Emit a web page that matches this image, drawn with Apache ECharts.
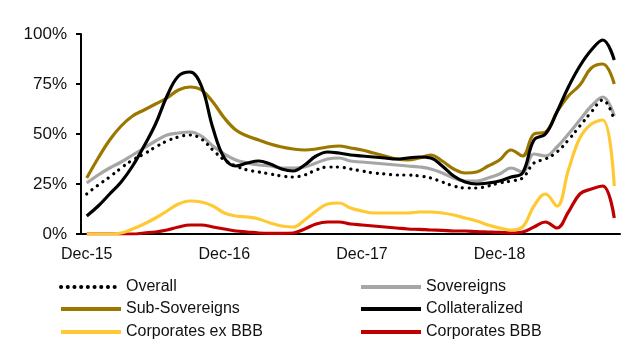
<!DOCTYPE html>
<html>
<head>
<meta charset="utf-8">
<script src="https://cdn.jsdelivr.net/npm/echarts@6/dist/echarts.min.js"></script>
<style>
html,body{margin:0;padding:0;background:#fff;}
#c{width:640px;height:360px;}
</style>
</head>
<body>
<div id="c"></div>
<script>
var categories = ['Dec-15','Jan-16','Feb-16','Mar-16','Apr-16','May-16','Jun-16','Jul-16','Aug-16','Sep-16','Oct-16','Nov-16',
  'Dec-16','Jan-17','Feb-17','Mar-17','Apr-17','May-17','Jun-17','Jul-17','Aug-17','Sep-17','Oct-17','Nov-17',
  'Dec-17','Jan-18','Feb-18','Mar-18','Apr-18','May-18','Jun-18','Jul-18','Aug-18','Sep-18','Oct-18','Nov-18',
  'Dec-18','Jan-19','Feb-19','Mar-19','Apr-19','May-19','Jun-19','Jul-19','Aug-19','Sep-19','Oct-19'];
var yTicks = [0, 25, 50, 75, 100];

var overall = [20,24.5,28.5,33,37,40,43.5,46.5,48.5,49.5,47.5,42,37,34,32,31,30,29,28.5,29.5,32,33.5,
  33.5,32.5,31.5,30.5,30,29.5,29.5,29,28,26,24,23,23,24,25.5,26.5,28,35.5,37.5,41,47,54,61,67,57];
var sovereigns = [25.5,29.5,33,36,39.5,43,46.5,49.5,50.5,51,49,44,40,37,35.5,34.5,34,33,33,33.5,35.5,37.5,
  38,36.5,36,35.5,35,34.5,34,33.5,32.5,30.5,28,26.5,26.5,28,30,33,31,40,39,43.5,50,57,64,68.5,59];
var subSovereigns = [28,38,47,54,59,62,65,68,72,73.5,72,66,58,52,49,47,45,43.5,42.5,42,42.5,43.5,
  44,43,42,40.5,39,37.5,37,38,39.5,36.5,32.5,30.5,31,34,37,42,39,50,51,61,69,74.5,83,85,75];
var collateralized = [9,14,20,26,34,44,55,69,79,81,74,53,38,34,35.5,36.5,35,32.5,31.5,34.5,39,41,
  40.5,39.5,39,38.5,38,37.5,38,38.5,38,34,29,26,25,25.5,26.5,28.5,30.5,47,50,61,73.5,84,92,97,87];
var corporatesExBBB = [0,0,0,0.5,2.5,5,8,11.5,15,16.5,16,14,10.5,9,8.5,7.5,5.5,4,3.5,7,11.5,15,
  15.5,13,11.5,10.5,10.5,10.5,10.5,11,11,10.5,9.5,8,6.5,4.5,3,2,3.5,14,20,14,32,48,55,57,24];
var corporatesBBB = [0,0,0,0,0,0.5,1,2,3.5,4.5,4.5,3.5,2.5,1.5,1,0.5,0.3,0.3,0.5,2.5,5,6,
  6,5,4.5,4,3.5,3,2.5,2.3,2,1.8,1.5,1.5,1.2,1,0.8,0.5,1,3.5,6,3,11,20,22.5,24,8];

var names = ['Overall','Sovereigns','Sub-Sovereigns','Collateralized','Corporates ex BBB','Corporates BBB'];
var colors = ['#000000','#A6A6A6','#9C7700','#000000','#FFC933','#C00000'];

var chart = echarts.init(document.getElementById('c'), null, {renderer:'canvas'});
var font = 'Liberation Sans, Arial, sans-serif';

function mkSeries(name, data, color, z, dotted) {
  return {
    name: name, type: 'line', data: data, smooth: 0.4, symbol: 'none', z: z,
    lineStyle: dotted ? {color: color, width: 3.2, type: [0.1, 6.6], cap: 'round'} : {color: color, width: 3.2},
    itemStyle: {color: color}
  };
}
function mkLegend(name, left, top) {
  return {
    data: [name], left: left, top: top, padding: 0, itemWidth: 60, itemHeight: 14,
    itemStyle: {color: 'rgba(0,0,0,0)', borderColor: 'rgba(0,0,0,0)', borderWidth: 0, opacity: 0},
    lineStyle: {width: 4},
    textStyle: {fontFamily: font, fontSize: 16, color: '#111', lineHeight: 16},
    selectedMode: false
  };
}

chart.setOption({
  animation: false,
  backgroundColor: '#fff',
  grid: {left: 81, right: 20, top: 34, bottom: 126},
  legend: [
    mkLegend(names[0], 59, 279), mkLegend(names[1], 359, 279),
    mkLegend(names[2], 59, 301), mkLegend(names[3], 359, 301),
    mkLegend(names[4], 59, 324), mkLegend(names[5], 359, 324)
  ],
  xAxis: {
    type: 'category', data: categories, boundaryGap: true,
    axisLine: {lineStyle: {color: '#000', width: 2}},
    axisTick: {interval: 11, length: 5, lineStyle: {color: '#000', width: 2}},
    axisLabel: {interval: 11, margin: 13, fontFamily: font, fontSize: 16, color: '#111'}
  },
  yAxis: {
    type: 'value', min: 0, max: 100, interval: 25,
    splitLine: {show: false},
    axisLine: {show: true, lineStyle: {color: '#000', width: 2}},
    axisTick: {show: true, length: 5, lineStyle: {color: '#000', width: 2}},
    axisLabel: {margin: 14, fontFamily: font, fontSize: 17, color: '#111',
      formatter: function (v) { return yTicks.indexOf(v) >= 0 ? v + '%' : ''; }}
  },
  series: [
    mkSeries(names[5], corporatesBBB, colors[5], 2),
    mkSeries(names[4], corporatesExBBB, colors[4], 3),
    mkSeries(names[1], sovereigns, colors[1], 4),
    mkSeries(names[2], subSovereigns, colors[2], 5),
    mkSeries(names[3], collateralized, colors[3], 6),
    mkSeries(names[0], overall, colors[0], 7, true)
  ]
});
</script>
</body>
</html>
